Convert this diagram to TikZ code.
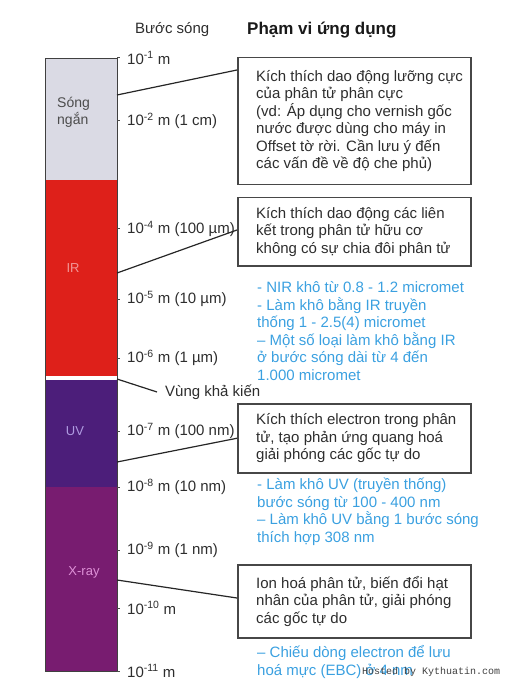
\documentclass[tikz,border=0pt]{standalone}
\usepackage{fontspec}
\setmainfont{Liberation Sans}
\newfontfamily\hostfont{Liberation Mono}
\usepackage{xcolor}
\usepackage{tikz}
\usetikzlibrary{positioning}
\definecolor{shortwave}{RGB}{218,218,228}
\definecolor{irred}{RGB}{222,32,26}
\definecolor{uvpurple}{RGB}{76,30,122}
\definecolor{xraypurple}{RGB}{120,28,112}
\definecolor{noteblue}{RGB}{58,160,224}
\definecolor{inkgrey}{RGB}{45,45,45}

\begin{document}
\begin{tikzpicture}[x=1pt, y=-1pt,
  txt/.style={font=\fontsize{15}{17.5}\selectfont, text=inkgrey, inner sep=0pt},
  note/.style={txt, text=noteblue, align=left, anchor=west},
  appbox/.style={draw=black!72, line width=1.5pt, anchor=north west, minimum width=233pt, inner sep=0pt},
  link/.style={draw=black!85, line width=1.2pt},
  bandlabel/.style={font=\fontsize{13}{16}\selectfont, inner sep=0pt}]
\def\bl{45}     % bar left edge
\def\br{117}    % bar right edge
\def\lx{127}    % wavelength label column
\useasboundingbox (0,0) rectangle (513,700);

% ================= headers =================
\node[txt, anchor=west] (hwave) at (135,30) {Bước sóng};
\node[txt, font=\bfseries\fontsize{17}{20}\selectfont, text=black!90, anchor=west] (hrange) at (247,30) {Phạm vi ứng dụng};

% ================= the spectrum bar =================
\fill[shortwave] (\bl,58) rectangle (\br,180);
\fill[irred] (\bl,180) rectangle (\br,376);
\fill[white] (\bl,376) rectangle (\br,380);
\fill[uvpurple] (\bl,380) rectangle (\br,487);
\fill[xraypurple] (\bl,487) rectangle (\br,671);
\draw[black!75, line width=0.8pt] (\bl,58) rectangle (\br,671);

\node[bandlabel, font=\fontsize{14}{17}\selectfont, text=black!70, align=left, anchor=west] (swlabel) at (57,112) {Sóng\\ngắn};
\node[bandlabel, text={rgb,255:red,242;green,150;blue,150}] (irlabel) at (73,268) {IR};
\node[bandlabel, text={rgb,255:red,175;green,155;blue,225}] (uvlabel) at (75,431) {UV};
\node[bandlabel, text={rgb,255:red,222;green,145;blue,215}] (xrlabel) at (84,572) {X-ray};

% wavelength ticks
\foreach \y/\lab in {58/{10\textsuperscript{-1} m}, 121/{10\textsuperscript{-2} m (1 cm)},
    229/{10\textsuperscript{-4} m (100 µm)}, 299/{10\textsuperscript{-5} m (10 µm)},
    358/{10\textsuperscript{-6} m (1 µm)}, 431/{10\textsuperscript{-7} m (100 nm)},
    487/{10\textsuperscript{-8} m (10 nm)}, 550/{10\textsuperscript{-9} m (1 nm)},
    608/{10\textsuperscript{-10} m}, 671/{10\textsuperscript{-11} m}} {
  \draw[black!70, line width=1pt] (\br,\y) -- ++(3,0);
  \node[txt, anchor=west] (tick\y) at (\lx,\y) {\lab};
}

% where the connectors leave the bar
\coordinate (swx) at (\br,95);
\coordinate (irx) at (\br,273);
\coordinate (visx) at (\br,379);
\coordinate (uvx) at (\br,462);
\coordinate (xrx) at (\br,580);

\node[txt, anchor=west] (vis) at (165,392) {Vùng khả kiến};
\draw[link] (visx) -- ([xshift=-8pt]vis.west);

% ================= application boxes =================
% ---------- short waves ----------
\node[appbox, minimum height=127pt] (box1) at (237,57) {};
\node[txt, align=left, right=19pt of box1.west] (box1txt) {Kích thích dao động lưỡng cực\\của phân tử phân cực\\(vd: Áp dụng cho vernish gốc\\nước được dùng cho máy in\\Offset tờ rời. Cần lưu ý đến\\các vấn đề về độ che phủ)};
\draw[link] (swx) -- ([yshift=-13pt]box1.north west);

% ---------- IR ----------
\node[appbox, minimum height=68pt] (box2) at (237,197) {};
\node[txt, align=left, right=19pt of box2.west] (box2txt) {Kích thích dao động các liên\\kết trong phân tử hữu cơ\\không có sự chia đôi phân tử};
\draw[link] (irx) -- ([yshift=-33pt]box2.north west);
\node[note] (irnote) at (257,331) {- NIR khô từ 0.8 - 1.2 micromet\\- Làm khô bằng IR truyền\\thống 1 - 2.5(4) micromet\\– Một số loại làm khô bằng IR\\ở bước sóng dài từ 4 đến\\1.000 micromet};

% ---------- UV ----------
\node[appbox, minimum height=69pt] (box3) at (237,403) {};
\node[txt, align=left, right=19pt of box3.west] (box3txt) {Kích thích electron trong phân\\tử, tạo phản ứng quang hoá\\giải phóng các gốc tự do};
\draw[link] (uvx) -- (box3.west);
\node[note] (uvnote) at (257,512) {- Làm khô UV (truyền thống)\\bước sóng từ 100 - 400 nm\\– Làm khô UV bằng 1 bước sóng\\thích hợp 308 nm};

% ---------- X-ray ----------
\node[appbox, minimum height=73pt] (box4) at (237,564) {};
\node[txt, align=left, right=19pt of box4.west] (box4txt) {Ion hoá phân tử, biến đổi hạt\\nhân của phân tử, giải phóng\\các gốc tự do};
\draw[link] (xrx) -- ([yshift=-34pt]box4.north west);
\node[note] (xrnote) at (257,662) {– Chiếu dòng electron để lưu\\hoá mực (EBC) ở 4 nm};

\node[font=\hostfont\fontsize{10}{12}\selectfont, text=black!75, inner sep=0pt, anchor=west] (host) at (362,672) {Hosted by Kythuatin.com};

\end{tikzpicture}
\end{document}
